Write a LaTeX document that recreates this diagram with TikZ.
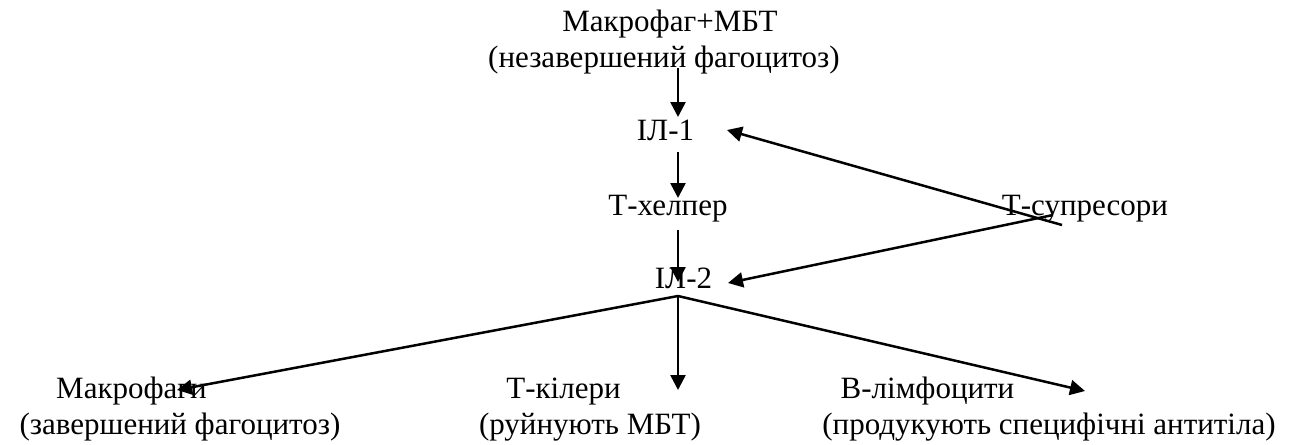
\documentclass[tikz,border=0pt]{standalone}
\usepackage{fontspec}
\setmainfont{Liberation Serif}
\usetikzlibrary{arrows.meta}
\begin{document}
\begin{tikzpicture}[x=1pt,y=-1pt,
  lbl/.style={inner sep=0pt,anchor=base,font=\fontsize{31}{35}\selectfont},
  conn/.style={line width=2.5pt,-{Triangle[length=15pt,width=15pt]}}]
\useasboundingbox (0,0) rectangle (1297,444);
% labels
\node[lbl] (top1) at (670,32) {Макрофаг+МБТ};
\node[lbl] (top2) at (664,67) {(незавершений фагоцитоз)};
\node[lbl] (il1) at (665.5,140) {ІЛ-1};
\node[lbl] (th) at (668,215) {Т-хелпер};
\node[lbl] (il2) at (683.5,288) {ІЛ-2};
\node[lbl] (ts) at (1085,215) {Т-супресори};
\node[lbl] (mk1) at (131.5,398) {Макрофаги};
\node[lbl] (mk2) at (180,434) {(завершений фагоцитоз)};
\node[lbl] (tk1) at (563.5,398) {Т-кілери};
\node[lbl] (tk2) at (590,434) {(руйнують МБТ)};
\node[lbl] (bl1) at (927.5,398) {В-лімфоцити};
\node[lbl] (bl2) at (1049,434) {(продукують специфічні антитіла)};
% connector ends
\coordinate (a1s) at (678,68);  \coordinate (a1e) at (678,117);
\coordinate (a2s) at (678,152); \coordinate (a2e) at (678,198);
\coordinate (a3s) at (678,230); \coordinate (a3e) at (678,282);
\coordinate (s1s) at (1062,225); \coordinate (s1e) at (727,130);
\coordinate (s2s) at (1053,215); \coordinate (s2e) at (728,283);
\coordinate (br) at (678,296);
\coordinate (b1) at (177,390); \coordinate (b2) at (678,390); \coordinate (b3) at (1085,391);
% connectors
\draw[conn] (a1s) -- (a1e);
\draw[conn] (a2s) -- (a2e);
\draw[conn] (a3s) -- (a3e);
\draw[conn] (s1s) -- (s1e);
\draw[conn] (s2s) -- (s2e);
\draw[conn] (br) -- (b1);
\draw[conn] (br) -- (b2);
\draw[conn] (br) -- (b3);
\end{tikzpicture}
\end{document}
